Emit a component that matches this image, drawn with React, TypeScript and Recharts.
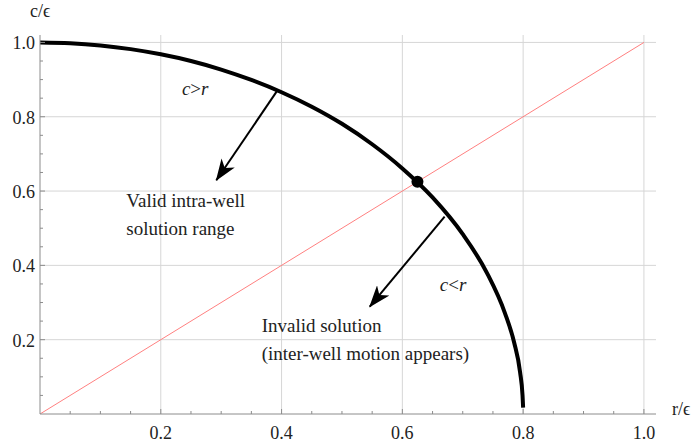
import { LineChart, Line, XAxis, YAxis, ReferenceLine, ReferenceDot } from "recharts";

// quarter curve c(r)
const curveR = [0, 0.05, 0.1, 0.15, 0.2, 0.25, 0.3, 0.35, 0.4, 0.45, 0.5, 0.55, 0.6, 0.65, 0.7, 0.74, 0.77, 0.785, 0.795, 0.799, 0.8];
const curveC = [1, 0.998, 0.992, 0.982, 0.968, 0.95, 0.927, 0.899, 0.866, 0.827, 0.781, 0.726, 0.661, 0.583, 0.484, 0.38, 0.271, 0.193, 0.112, 0.05, 0.017];

// diagonal c = r
const diagR = [0, 1];
const diagC = [0, 1];

const crossing = { r: 0.625, c: 0.625 };

const arrowValid = [{ r: 0.394, c: 0.873 }, { r: 0.292, c: 0.629 }];
const arrowInvalid = [{ r: 0.67, c: 0.531 }, { r: 0.546, c: 0.289 }];

const majorTicks = [0.2, 0.4, 0.6, 0.8, 1.0];
const minorTicks = [0.05, 0.1, 0.15, 0.2, 0.25, 0.3, 0.35, 0.4, 0.45, 0.5, 0.55, 0.6, 0.65, 0.7, 0.75, 0.8, 0.85, 0.9, 0.95, 1.0];

const notes = [
    { r: 0.235, c: 0.859, text: "c>r", math: true },
    { r: 0.143, c: 0.558, text: "Valid intra-well" },
    { r: 0.143, c: 0.483, text: "solution range" },
    { r: 0.662, c: 0.332, text: "c<r", math: true },
    { r: 0.367, c: 0.221, text: "Invalid solution" },
    { r: 0.367, c: 0.146, text: "(inter-well motion appears)" },
];

const curveData = curveR.map((r, i) => ({ r, c: curveC[i] }));
const diagData = diagR.map((r, i) => ({ r, c: diagC[i] }));

const FONT = "'Liberation Serif', 'Times New Roman', serif";
const AXIS = "#8c8c8c";
const GRID = "#d6d6d6";

const isMajor = (v: number) => majorTicks.some((m) => Math.abs(m - v) < 1e-6);

function XTick(props: any) {
    const { x, y, payload } = props;
    const major = isMajor(payload.value);
    return (
        <g>
            <line x1={x} x2={x} y1={y} y2={y - (major ? 5 : 3)} stroke={AXIS} />
            {major && (
                <text x={x} y={y + 25} textAnchor="middle" fontFamily={FONT} fontSize={18} fill="#222">
                    {payload.value.toFixed(1)}
                </text>
            )}
        </g>
    );
}

function YTick(props: any) {
    const { x, y, payload } = props;
    const major = isMajor(payload.value);
    return (
        <g>
            <line x1={x} x2={x + (major ? 5 : 3)} y1={y} y2={y} stroke={AXIS} />
            {major && (
                <text x={x - 5} y={y + 7} textAnchor="end" fontFamily={FONT} fontSize={18} fill="#222">
                    {payload.value.toFixed(1)}
                </text>
            )}
        </g>
    );
}

function Note(props: any) {
    const { cx, cy, note } = props;
    if (note.math) {
        const [a, op, b] = [note.text[0], note.text[1], note.text[2]];
        return (
            <text x={cx} y={cy} fontFamily={FONT} fontSize={19} fill="#222">
                <tspan fontStyle="italic">{a}</tspan>
                <tspan>{op}</tspan>
                <tspan fontStyle="italic">{b}</tspan>
            </text>
        );
    }
    return (
        <text x={cx} y={cy} fontFamily={FONT} fontSize={19} fill="#222">
            {note.text}
        </text>
    );
}

export default function App() {
    return (
        <div style={{ position: "absolute", left: 0, top: 0, width: 694, height: 446, background: "#fff" }}>
            <svg width={0} height={0} style={{ position: "absolute" }}>
                <defs>
                    <marker id="head" viewBox="0 0 22 16" refX={21} refY={8} markerWidth={22} markerHeight={16} markerUnits="userSpaceOnUse" orient="auto">
                        <path d="M0,0 L22,8 L0,16 L6,8 Z" fill="#000" />
                    </marker>
                </defs>
            </svg>
            <LineChart width={694} height={446} margin={{ top: 35, right: 38, bottom: 31, left: 39 }}>
                <XAxis
                    dataKey="r"
                    type="number"
                    domain={[0, 1.02]}
                    ticks={minorTicks}
                    interval={0}
                    allowDataOverflow
                    height={1}
                    tickSize={0}
                    tickMargin={0}
                    tickLine={false}
                    axisLine={{ stroke: AXIS }}
                    tick={<XTick />}
                />
                <YAxis
                    dataKey="c"
                    type="number"
                    domain={[0, 1.02]}
                    ticks={minorTicks}
                    interval={0}
                    allowDataOverflow
                    width={1}
                    tickSize={0}
                    tickMargin={0}
                    tickLine={false}
                    axisLine={{ stroke: AXIS }}
                    tick={<YTick />}
                />
                {majorTicks.map((v) => (
                    <ReferenceLine key={`gx${v}`} x={v} stroke={GRID} strokeWidth={1} />
                ))}
                {majorTicks.map((v) => (
                    <ReferenceLine key={`gy${v}`} y={v} stroke={GRID} strokeWidth={1} />
                ))}
                <Line data={diagData} dataKey="c" stroke="#ff8080" strokeWidth={1} dot={false} isAnimationActive={false} />
                <Line data={curveData} dataKey="c" type="monotone" stroke="#000" strokeWidth={4} dot={false} isAnimationActive={false} />
                <Line data={arrowValid} dataKey="c" stroke="#000" strokeWidth={2} dot={false} markerEnd="url(#head)" isAnimationActive={false} />
                <Line data={arrowInvalid} dataKey="c" stroke="#000" strokeWidth={2} dot={false} markerEnd="url(#head)" isAnimationActive={false} />
                <ReferenceDot x={crossing.r} y={crossing.c} r={6} fill="#000" stroke="none" />
                {notes.map((n) => (
                    <ReferenceDot key={n.text} x={n.r} y={n.c} r={0} shape={(p: any) => <Note {...p} note={n} />} />
                ))}
            </LineChart>
            <span style={{ position: "absolute", left: 30, top: 1, fontFamily: FONT, fontSize: 18, color: "#222" }}>c/ϵ</span>
            <span style={{ position: "absolute", left: 672, top: 399, fontFamily: FONT, fontSize: 18, color: "#222" }}>r/ϵ</span>
        </div>
    );
}
